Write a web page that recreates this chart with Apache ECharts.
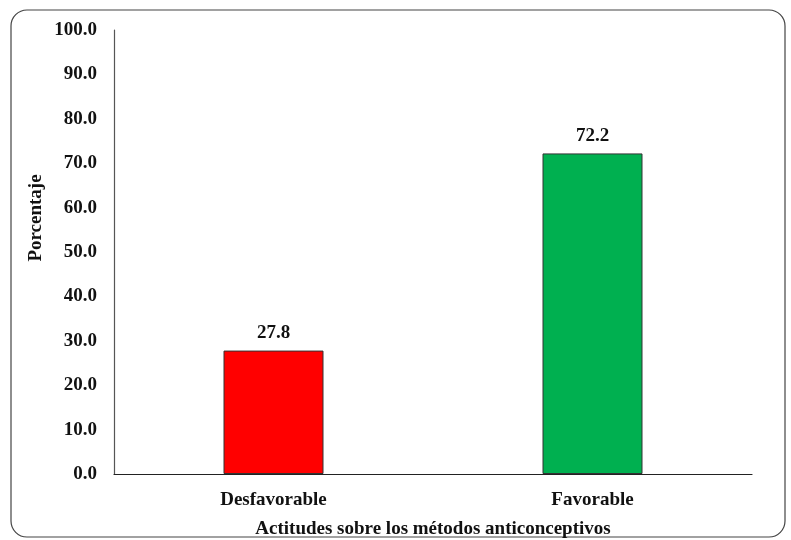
<!DOCTYPE html>
<html>
<head>
<meta charset="utf-8">
<script src="https://cdn.jsdelivr.net/npm/echarts@6/dist/echarts.min.js"></script>
<style>
  html, body { margin: 0; padding: 0; background: #fff; }
  #chart { width: 791px; height: 540px; }
</style>
</head>
<body>
<div id="chart"></div>
<script>
// chart data
const categories = ['Desfavorable', 'Favorable'];
const values = [27.8, 72.2];
const barColors = ['#ff0000', '#00b050'];
const yTicks = { min: 0, max: 100, interval: 10 };

const font = '"Liberation Serif", "Times New Roman", serif';
const fs = 19;

const chart = echarts.init(document.getElementById('chart'), null, { renderer: 'canvas' });

chart.setOption({
  animation: false,
  backgroundColor: '#fff',
  grid: { left: 114, right: 39, top: 30, bottom: 66, outerBoundsMode: 'none', containLabel: false },
  graphic: [
    {
      type: 'rect',
      shape: { x: 11, y: 10, width: 774, height: 527, r: 16 },
      style: { fill: 'none', stroke: '#444', lineWidth: 1.2 },
      z: -1
    },
    {
      type: 'text',
      x: 36, y: 218,
      rotation: Math.PI / 2,
      style: {
        text: 'Porcentaje',
        font: 'bold ' + fs + 'px ' + font,
        fill: '#111',
        align: 'center',
        verticalAlign: 'middle'
      }
    }
  ],
  xAxis: {
    type: 'category',
    data: categories,
    name: 'Actitudes sobre los métodos anticonceptivos',
    nameLocation: 'middle',
    nameGap: 46,
    nameTextStyle: { fontFamily: font, fontWeight: 'bold', fontSize: fs, color: '#111' },
    axisLine: { lineStyle: { color: '#222', width: 1.2 } },
    axisTick: { show: false },
    axisLabel: { fontFamily: font, fontWeight: 'bold', fontSize: fs, color: '#111', margin: 17 }
  },
  yAxis: {
    type: 'value',
    min: yTicks.min,
    max: yTicks.max,
    interval: yTicks.interval,
    axisLine: { show: true, lineStyle: { color: '#555', width: 1.2 } },
    axisTick: { show: false },
    splitLine: { show: false },
    axisLabel: {
      fontFamily: font, fontWeight: 'bold', fontSize: fs, color: '#111', margin: 17,
      formatter: v => v.toFixed(1)
    }
  },
  series: [{
    type: 'bar',
    barWidth: 100,
    data: values.map((v, i) => ({
      value: v,
      itemStyle: { color: barColors[i], borderColor: '#333', borderWidth: 1 }
    })),
    label: {
      show: true,
      position: 'top',
      distance: 8,
      fontFamily: font, fontWeight: 'bold', fontSize: fs, color: '#111',
      formatter: p => p.value.toFixed(1)
    }
  }]
});
</script>
</body>
</html>
